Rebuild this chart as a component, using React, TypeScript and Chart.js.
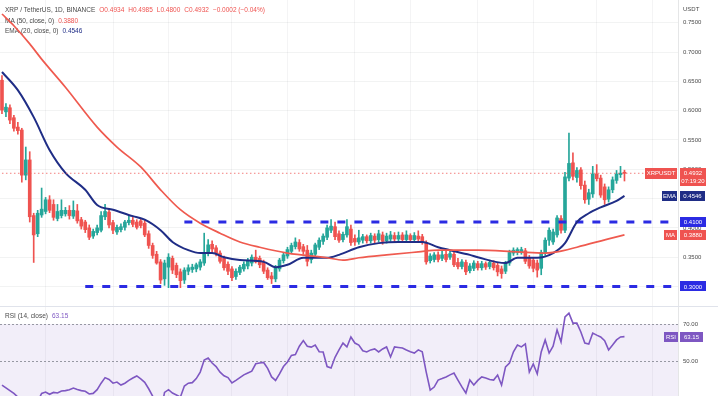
import React, { useEffect, useRef } from 'react';
import { Chart, registerables } from 'chart.js';

Chart.register(...registerables);

// ---------------- data ----------------
const START_DATE = Date.UTC(2022, 4, 4);
const RIGHT_PAD_DAYS = 13;

// [open, high, low, close]
const OHLC: [number, number, number, number][] = [
  [0.652, 0.660, 0.595, 0.601], [0.598, 0.612, 0.590, 0.606], [0.605, 0.610, 0.578, 0.584], [0.588, 0.592, 0.565, 0.570],
  [0.572, 0.580, 0.560, 0.566], [0.567, 0.570, 0.478, 0.490], [0.490, 0.538, 0.482, 0.516], [0.516, 0.530, 0.410, 0.419],
  [0.421, 0.425, 0.341, 0.388], [0.390, 0.430, 0.385, 0.425], [0.422, 0.468, 0.418, 0.432], [0.428, 0.452, 0.424, 0.448],
  [0.448, 0.455, 0.426, 0.430], [0.440, 0.448, 0.413, 0.418], [0.416, 0.440, 0.412, 0.428], [0.421, 0.448, 0.417, 0.430],
  [0.424, 0.435, 0.420, 0.430], [0.430, 0.438, 0.415, 0.421], [0.420, 0.446, 0.416, 0.430], [0.429, 0.440, 0.408, 0.412],
  [0.414, 0.418, 0.398, 0.403], [0.410, 0.413, 0.392, 0.397], [0.400, 0.405, 0.380, 0.384], [0.386, 0.398, 0.382, 0.394],
  [0.392, 0.405, 0.388, 0.400], [0.396, 0.428, 0.393, 0.421], [0.419, 0.440, 0.414, 0.428], [0.427, 0.432, 0.400, 0.405],
  [0.409, 0.413, 0.390, 0.396], [0.393, 0.405, 0.389, 0.401], [0.397, 0.407, 0.393, 0.402], [0.401, 0.413, 0.396, 0.410],
  [0.409, 0.420, 0.405, 0.413], [0.413, 0.418, 0.402, 0.406], [0.410, 0.414, 0.398, 0.401], [0.412, 0.416, 0.400, 0.404],
  [0.408, 0.414, 0.385, 0.388], [0.390, 0.395, 0.365, 0.370], [0.370, 0.374, 0.348, 0.353], [0.355, 0.360, 0.338, 0.340],
  [0.342, 0.346, 0.305, 0.311], [0.313, 0.345, 0.302, 0.340], [0.333, 0.356, 0.298, 0.350], [0.348, 0.352, 0.322, 0.328],
  [0.336, 0.340, 0.315, 0.320], [0.325, 0.330, 0.298, 0.310], [0.311, 0.332, 0.305, 0.328], [0.326, 0.337, 0.320, 0.332],
  [0.329, 0.338, 0.324, 0.333], [0.330, 0.340, 0.325, 0.337], [0.333, 0.346, 0.328, 0.342], [0.340, 0.391, 0.336, 0.358],
  [0.357, 0.380, 0.352, 0.371], [0.372, 0.378, 0.357, 0.364], [0.366, 0.370, 0.352, 0.356], [0.357, 0.361, 0.340, 0.343],
  [0.348, 0.352, 0.328, 0.332], [0.338, 0.342, 0.320, 0.326], [0.330, 0.334, 0.310, 0.315], [0.317, 0.330, 0.312, 0.326],
  [0.324, 0.336, 0.320, 0.333], [0.330, 0.342, 0.326, 0.338], [0.335, 0.348, 0.330, 0.344], [0.340, 0.354, 0.335, 0.350],
  [0.350, 0.362, 0.340, 0.342], [0.348, 0.352, 0.332, 0.337], [0.341, 0.345, 0.322, 0.326], [0.328, 0.332, 0.312, 0.315],
  [0.318, 0.324, 0.305, 0.313], [0.313, 0.336, 0.308, 0.332], [0.330, 0.348, 0.326, 0.345], [0.344, 0.358, 0.340, 0.354],
  [0.352, 0.367, 0.348, 0.363], [0.360, 0.374, 0.356, 0.370], [0.368, 0.383, 0.364, 0.376], [0.375, 0.380, 0.360, 0.364],
  [0.368, 0.372, 0.355, 0.360], [0.362, 0.370, 0.335, 0.343], [0.346, 0.362, 0.340, 0.357], [0.355, 0.374, 0.350, 0.371],
  [0.367, 0.383, 0.363, 0.379], [0.377, 0.390, 0.372, 0.386], [0.384, 0.405, 0.380, 0.400], [0.396, 0.414, 0.392, 0.403],
  [0.402, 0.410, 0.380, 0.385], [0.390, 0.395, 0.375, 0.379], [0.380, 0.393, 0.376, 0.389], [0.388, 0.414, 0.384, 0.402],
  [0.398, 0.405, 0.370, 0.375], [0.382, 0.388, 0.370, 0.376], [0.376, 0.396, 0.372, 0.383], [0.379, 0.389, 0.374, 0.385],
  [0.385, 0.388, 0.374, 0.378], [0.378, 0.391, 0.374, 0.387], [0.386, 0.390, 0.374, 0.379], [0.380, 0.396, 0.376, 0.390],
  [0.388, 0.393, 0.372, 0.377], [0.378, 0.391, 0.374, 0.386], [0.381, 0.394, 0.377, 0.388], [0.387, 0.392, 0.376, 0.381],
  [0.381, 0.393, 0.377, 0.387], [0.388, 0.392, 0.376, 0.380], [0.380, 0.395, 0.376, 0.388], [0.387, 0.390, 0.376, 0.380],
  [0.380, 0.392, 0.376, 0.387], [0.386, 0.395, 0.377, 0.381], [0.385, 0.389, 0.372, 0.376], [0.374, 0.378, 0.338, 0.342],
  [0.344, 0.356, 0.340, 0.352], [0.346, 0.358, 0.342, 0.354], [0.354, 0.359, 0.342, 0.346], [0.348, 0.360, 0.344, 0.354],
  [0.355, 0.362, 0.342, 0.346], [0.350, 0.360, 0.346, 0.356], [0.355, 0.359, 0.334, 0.337], [0.341, 0.348, 0.330, 0.334],
  [0.334, 0.346, 0.330, 0.342], [0.341, 0.345, 0.320, 0.325], [0.327, 0.339, 0.323, 0.335], [0.331, 0.344, 0.327, 0.340],
  [0.339, 0.343, 0.328, 0.332], [0.332, 0.343, 0.328, 0.339], [0.339, 0.342, 0.329, 0.333], [0.334, 0.345, 0.330, 0.341],
  [0.340, 0.344, 0.328, 0.332], [0.336, 0.340, 0.318, 0.325], [0.330, 0.335, 0.314, 0.322], [0.326, 0.343, 0.322, 0.339],
  [0.340, 0.362, 0.336, 0.358], [0.357, 0.366, 0.353, 0.362], [0.358, 0.366, 0.354, 0.363], [0.359, 0.367, 0.355, 0.363],
  [0.361, 0.365, 0.339, 0.343], [0.349, 0.353, 0.331, 0.335], [0.345, 0.349, 0.325, 0.331], [0.340, 0.345, 0.316, 0.328],
  [0.331, 0.362, 0.320, 0.358], [0.357, 0.383, 0.353, 0.379], [0.379, 0.400, 0.370, 0.396], [0.376, 0.398, 0.372, 0.393],
  [0.388, 0.421, 0.384, 0.417], [0.416, 0.421, 0.391, 0.396], [0.396, 0.495, 0.392, 0.487], [0.485, 0.562, 0.480, 0.510],
  [0.511, 0.528, 0.482, 0.488], [0.486, 0.503, 0.478, 0.498], [0.499, 0.503, 0.466, 0.472], [0.473, 0.480, 0.442, 0.448],
  [0.449, 0.466, 0.440, 0.460], [0.458, 0.505, 0.452, 0.492], [0.492, 0.508, 0.480, 0.484], [0.485, 0.490, 0.452, 0.456],
  [0.470, 0.475, 0.440, 0.448], [0.449, 0.470, 0.444, 0.465], [0.465, 0.487, 0.460, 0.482], [0.481, 0.498, 0.476, 0.492],
  [0.491, 0.505, 0.486, 0.4934], [0.4934, 0.4985, 0.4800, 0.4932],
];

// EMA(20) and MA(50): [candle index, value]
const EMA20_PTS: [number, number][] = [
  [0, 0.666], [4, 0.635], [8, 0.589], [12, 0.533], [16, 0.494], [21, 0.465], [24, 0.439], [28, 0.431],
  [33, 0.420], [36, 0.414], [40, 0.396], [43, 0.376], [47, 0.362], [50, 0.357], [53, 0.357], [56, 0.350],
  [60, 0.345], [66, 0.342], [69, 0.333], [72, 0.337], [76, 0.349], [82, 0.349], [85, 0.354], [90, 0.367],
  [95, 0.374], [100, 0.376], [106, 0.376], [110, 0.367], [113, 0.362], [118, 0.354], [120, 0.350], [127, 0.340],
  [130, 0.349], [135, 0.349], [139, 0.357], [142, 0.374], [145, 0.410], [148, 0.425], [151, 0.435], [155, 0.446],
  [157, 0.4546],
];
const MA50_PTS: [number, number][] = [
  [0, 0.765], [3, 0.745], [7, 0.714], [10, 0.688], [16, 0.640], [24, 0.572], [29, 0.538], [35, 0.504],
  [40, 0.465], [45, 0.431], [50, 0.408], [55, 0.391], [60, 0.376], [65, 0.367], [72, 0.357], [82, 0.349],
  [86, 0.345], [90, 0.349], [97, 0.354], [105, 0.359], [110, 0.362], [120, 0.362], [130, 0.359], [137, 0.357],
  [140, 0.359], [145, 0.367], [154, 0.383], [157, 0.388],
];

const RSI14 = [
  37, 35.5, 34, 32.5, 30.5, 26, 29, 22, 20, 28,
  32.5, 33.2, 32, 33, 32.7, 33.8, 34, 34.5, 35.4, 34.6,
  34, 33.6, 32.2, 32.5, 34.5, 38, 41, 40, 38, 38.6,
  37, 38, 39.5, 40.8, 41.9, 40.3, 38.5, 35, 31, 27,
  22, 33, 34.5, 32.7, 31.6, 30.5, 36.5, 38, 38.3, 40.5,
  44, 50.5, 51.6, 48.9, 47, 44, 42, 41, 38.1, 39.5,
  41, 42.5, 43.5, 44.5, 48.5, 48.9, 49.2, 46, 41.4, 39.5,
  43, 47, 49.5, 53, 53.5, 58, 61, 58, 57.5, 58.6,
  55, 54.9, 47, 46.2, 52, 56, 59.7, 57.6, 63, 59.7,
  58.6, 55.5, 54.9, 56, 56.5, 54.9, 56.5, 57.6, 52.2, 57.6,
  57.3, 57, 55.9, 55, 54.3, 56, 55, 44, 34.3, 35.9,
  39.7, 40.5, 41.4, 42.5, 43.5, 39.7, 36, 32.7, 39.7, 37,
  39.5, 41.4, 40.8, 40, 39.7, 42.4, 37, 46.8, 48.9, 55,
  58.6, 57.6, 59.2, 44, 48.4, 43, 54.9, 61.4, 54.3, 58,
  66.8, 60.3, 73.8, 75.9, 70.5, 70.5, 65.7, 59.7, 59.2, 65.1,
  64, 63, 61, 56, 58.6, 61.4, 63, 63.15,
];

const RESISTANCE = 0.41;
const RESISTANCE_FROM = 46;
const SUPPORT = 0.30;
const SUPPORT_FROM = 21;
const PRICE_TICKS = [0.30, 0.35, 0.40, 0.45, 0.50, 0.55, 0.60, 0.65, 0.70, 0.75];
const RSI_TICKS = [50, 70];
const RSI_BAND = [30, 70];

const TITLE = 'XRP / TetherUS, 1D, BINANCE';
const CHANGE_TEXT = '\u22120.0002 (\u22120.04%)';
const MA_LEGEND = 'MA (50, close, 0)';
const EMA_LEGEND = 'EMA (20, close, 0)';
const RSI_LEGEND = 'RSI (14, close)';
const SYMBOL_TAG = 'XRPUSDT';
const COUNTDOWN = '07:19:20';
const CURRENCY = 'USDT';

// ---------------- derived ----------------
const N = OHLC.length;
const LABELS = Array.from({ length: N + RIGHT_PAD_DAYS }, (_, i) =>
  new Date(START_DATE + i * 86400000).toISOString().slice(0, 10)
);
const LAST = OHLC[N - 1];
const EMA_LAST = EMA20_PTS[EMA20_PTS.length - 1][1];
const MA_LAST = MA50_PTS[MA50_PTS.length - 1][1];
const RSI_LAST = RSI14[RSI14.length - 1];

// ---------------- style ----------------
const FONT = '"Liberation Sans", Arial, sans-serif';
const UP = '#26a69a';
const DOWN = '#ef5350';
const EMA_COLOR = '#1f2d86';
const MA_COLOR = '#ef5a4f';
const LEVEL_COLOR = '#2b2be3';
const RSI_COLOR = '#7e57c2';
const TEXT = '#4a4a4a';
const AXIS_W = 40;
const PRICE_H = 306;
const RSI_H = 89;
// scale ranges chosen so the panes line up with the picture
const P_MAX = 0.7889;
const P_MIN = 0.2667;
const R_MAX = 79.19;
const R_MIN = 31.08;

const vGrid = (ctx: any) => {
  const lab = LABELS[ctx.index];
  return lab && (lab.endsWith('-01') || lab.endsWith('-15')) ? 'rgba(42,46,57,0.05)' : 'rgba(0,0,0,0)';
};

function tag(ctx: CanvasRenderingContext2D, x: number, yc: number, w: number, bg: string, lines: string[], h = 10) {
  ctx.fillStyle = bg;
  ctx.fillRect(x, Math.round(yc - 5), w, h);
  ctx.fillStyle = '#ffffff';
  ctx.textAlign = 'center';
  ctx.textBaseline = 'middle';
  lines.forEach((t, k) => ctx.fillText(t, x + w / 2, yc + 0.5 + k * 8));
}

function legendRow(ctx: CanvasRenderingContext2D, y: number, parts: [string, string][]) {
  let x = 5;
  parts.forEach(([t, c]) => {
    ctx.fillStyle = c;
    ctx.fillText(t, x, y);
    x += ctx.measureText(t).width + 4;
  });
}

const priceDecor = {
  id: 'priceDecor',
  beforeDatasetsDraw(chart: any) {
    const ctx = chart.ctx as CanvasRenderingContext2D;
    ctx.save();
    ctx.font = `6.5px ${FONT}`;
    ctx.textBaseline = 'middle';
    ctx.textAlign = 'left';
    const [o, h, l, c] = LAST;
    legendRow(ctx, 10, [
      [TITLE, TEXT],
      ['O' + o.toFixed(4), DOWN],
      ['H' + h.toFixed(4), DOWN],
      ['L' + l.toFixed(4), DOWN],
      ['C' + c.toFixed(4), DOWN],
      [CHANGE_TEXT, DOWN],
    ]);
    legendRow(ctx, 21, [[MA_LEGEND, TEXT], [MA_LAST.toFixed(4), DOWN]]);
    legendRow(ctx, 31, [[EMA_LEGEND, TEXT], [EMA_LAST.toFixed(4), EMA_COLOR]]);
    ctx.restore();
  },
  afterDraw(chart: any) {
    const ctx = chart.ctx as CanvasRenderingContext2D;
    const y = chart.scales.y;
    const ax = chart.chartArea.right + 2;
    ctx.save();
    ctx.font = `6px ${FONT}`;
    ctx.fillStyle = TEXT;
    ctx.textAlign = 'left';
    ctx.textBaseline = 'middle';
    ctx.fillText(CURRENCY, ax + 3, 9);

    const yP = y.getPixelForValue(LAST[3]);
    tag(ctx, ax - 35, yP, 32, DOWN, [SYMBOL_TAG], 11);
    tag(ctx, ax, yP, 26, DOWN, [LAST[3].toFixed(4), COUNTDOWN], 18);
    const yE = y.getPixelForValue(EMA_LAST);
    tag(ctx, ax - 18, yE, 15, EMA_COLOR, ['EMA']);
    tag(ctx, ax, yE, 25, EMA_COLOR, [EMA_LAST.toFixed(4)]);
    const yR = y.getPixelForValue(RESISTANCE);
    tag(ctx, ax, yR, 26, LEVEL_COLOR, [RESISTANCE.toFixed(4)]);
    const yM = y.getPixelForValue(MA_LAST);
    tag(ctx, ax - 16, yM, 13, DOWN, ['MA']);
    tag(ctx, ax, yM, 26, DOWN, [MA_LAST.toFixed(4)]);
    const yS = y.getPixelForValue(SUPPORT);
    tag(ctx, ax, yS, 26, LEVEL_COLOR, [SUPPORT.toFixed(4)]);
    ctx.restore();
  },
};

const rsiDecor = {
  id: 'rsiDecor',
  beforeDatasetsDraw(chart: any) {
    const ctx = chart.ctx as CanvasRenderingContext2D;
    const { left, right, top, bottom } = chart.chartArea;
    const y = chart.scales.y;
    ctx.save();
    const y70 = Math.max(top, y.getPixelForValue(RSI_BAND[1]));
    const y30 = Math.min(bottom, y.getPixelForValue(RSI_BAND[0]));
    ctx.fillStyle = 'rgba(126,87,194,0.10)';
    ctx.fillRect(left, y70, right - left, y30 - y70);
    ctx.strokeStyle = 'rgba(120,123,134,0.75)';
    ctx.lineWidth = 1;
    ctx.setLineDash([2, 2]);
    RSI_TICKS.forEach((v) => {
      const yy = Math.round(y.getPixelForValue(v)) + 0.5;
      ctx.beginPath();
      ctx.moveTo(left, yy);
      ctx.lineTo(right, yy);
      ctx.stroke();
    });
    ctx.setLineDash([]);
    ctx.font = `6.5px ${FONT}`;
    ctx.textBaseline = 'middle';
    ctx.textAlign = 'left';
    legendRow(ctx, 9, [[RSI_LEGEND, TEXT], [RSI_LAST.toFixed(2), RSI_COLOR]]);
    ctx.restore();
  },
  afterDraw(chart: any) {
    const ctx = chart.ctx as CanvasRenderingContext2D;
    const y = chart.scales.y;
    const ax = chart.chartArea.right + 2;
    ctx.save();
    ctx.font = `6px ${FONT}`;
    const yv = y.getPixelForValue(RSI_LAST);
    tag(ctx, ax - 16, yv, 14, RSI_COLOR, ['RSI']);
    tag(ctx, ax, yv, 23, RSI_COLOR, [RSI_LAST.toFixed(2)]);
    ctx.restore();
  },
};

const xScale = {
  type: 'category' as const,
  offset: true,
  ticks: { display: false },
  grid: { drawTicks: false, offset: false, color: vGrid, lineWidth: 1 },
  border: { display: false },
};

export default function App() {
  const priceRef = useRef<HTMLCanvasElement>(null);
  const rsiRef = useRef<HTMLCanvasElement>(null);

  useEffect(() => {
    const colors = OHLC.map(([o, , , c]) => (c >= o ? UP : DOWN));
    const lastLabel = LABELS[LABELS.length - 1];
    const line = (extra: any) => ({
      type: 'line',
      pointRadius: 0,
      pointHoverRadius: 0,
      fill: false,
      order: 0,
      ...extra,
    });

    const price = new Chart(priceRef.current as HTMLCanvasElement, {
      type: 'bar',
      data: {
        labels: LABELS,
        datasets: [
          {
            type: 'bar',
            label: 'wick',
            data: OHLC.map(([, h, l]) => [l, h]),
            backgroundColor: colors,
            barThickness: 1,
            grouped: false,
            order: 3,
          },
          {
            type: 'bar',
            label: 'body',
            data: OHLC.map(([o, , , c]) => [o, c]),
            backgroundColor: colors,
            barThickness: 3,
            minBarLength: 1,
            grouped: false,
            order: 2,
          },
          line({
            label: 'last',
            data: [{ x: LABELS[0], y: LAST[3] }, { x: lastLabel, y: LAST[3] }],
            borderColor: 'rgba(239,83,80,0.75)',
            borderWidth: 1,
            borderDash: [1.5, 2.5],
          }),
          line({
            label: 'MA 50',
            data: MA50_PTS.map(([i, v]) => ({ x: LABELS[i], y: v })),
            borderColor: MA_COLOR,
            borderWidth: 1.7,
            cubicInterpolationMode: 'monotone',
          }),
          line({
            label: 'EMA 20',
            data: EMA20_PTS.map(([i, v]) => ({ x: LABELS[i], y: v })),
            borderColor: EMA_COLOR,
            borderWidth: 2,
            cubicInterpolationMode: 'monotone',
          }),
          line({
            label: 'resistance',
            data: [{ x: LABELS[RESISTANCE_FROM], y: RESISTANCE }, { x: lastLabel, y: RESISTANCE }],
            borderColor: LEVEL_COLOR,
            borderWidth: 3,
            borderDash: [8, 9],
          }),
          line({
            label: 'support',
            data: [{ x: LABELS[SUPPORT_FROM], y: SUPPORT }, { x: lastLabel, y: SUPPORT }],
            borderColor: LEVEL_COLOR,
            borderWidth: 3,
            borderDash: [8, 9],
          }),
        ],
      } as any,
      options: {
        responsive: false,
        animation: false,
        events: [],
        devicePixelRatio: 1,
        layout: { padding: 0 },
        plugins: { legend: { display: false }, tooltip: { enabled: false } },
        scales: {
          x: xScale,
          y: {
            position: 'right',
            min: P_MIN,
            max: P_MAX,
            afterBuildTicks: (s: any) => {
              s.ticks = PRICE_TICKS.map((v) => ({ value: v }));
            },
            afterFit: (s: any) => {
              s.width = AXIS_W;
              s.paddingTop = 0;
              s.paddingBottom = 0;
            },
            ticks: {
              padding: 5,
              color: TEXT,
              font: { size: 6, family: FONT },
              callback: (v: any) => Number(v).toFixed(4),
            },
            grid: { drawTicks: false, color: 'rgba(42,46,57,0.06)' },
            border: { display: true, color: 'rgba(42,46,57,0.12)' },
          },
        },
      } as any,
      plugins: [priceDecor],
    });

    const rsi = new Chart(rsiRef.current as HTMLCanvasElement, {
      type: 'line',
      data: {
        labels: LABELS,
        datasets: [
          {
            label: 'RSI',
            data: RSI14,
            borderColor: RSI_COLOR,
            borderWidth: 1.6,
            pointRadius: 0,
            tension: 0,
            fill: false,
          },
        ],
      },
      options: {
        responsive: false,
        animation: false,
        events: [],
        devicePixelRatio: 1,
        layout: { padding: 0 },
        plugins: { legend: { display: false }, tooltip: { enabled: false } },
        scales: {
          x: xScale,
          y: {
            position: 'right',
            min: R_MIN,
            max: R_MAX,
            afterBuildTicks: (s: any) => {
              s.ticks = RSI_TICKS.map((v) => ({ value: v }));
            },
            afterFit: (s: any) => {
              s.width = AXIS_W;
              s.paddingTop = 0;
              s.paddingBottom = 0;
            },
            ticks: {
              padding: 5,
              color: TEXT,
              font: { size: 6, family: FONT },
              callback: (v: any) => Number(v).toFixed(2),
            },
            grid: { display: false, drawTicks: false },
            border: { display: true, color: 'rgba(42,46,57,0.12)' },
          },
        },
      } as any,
      plugins: [rsiDecor],
    });

    return () => {
      price.destroy();
      rsi.destroy();
    };
  }, []);

  return (
    <div
      style={{
        position: 'absolute',
        left: 0,
        top: 0,
        width: 718,
        height: 396,
        background: '#ffffff',
        overflow: 'hidden',
      }}
    >
      <canvas ref={priceRef} width={718} height={PRICE_H} style={{ position: 'absolute', left: 0, top: 0 }} />
      <div style={{ position: 'absolute', left: 0, top: PRICE_H, width: 718, height: 1, background: '#e0e3eb' }} />
      <canvas ref={rsiRef} width={718} height={RSI_H} style={{ position: 'absolute', left: 0, top: PRICE_H + 1 }} />
    </div>
  );
}
